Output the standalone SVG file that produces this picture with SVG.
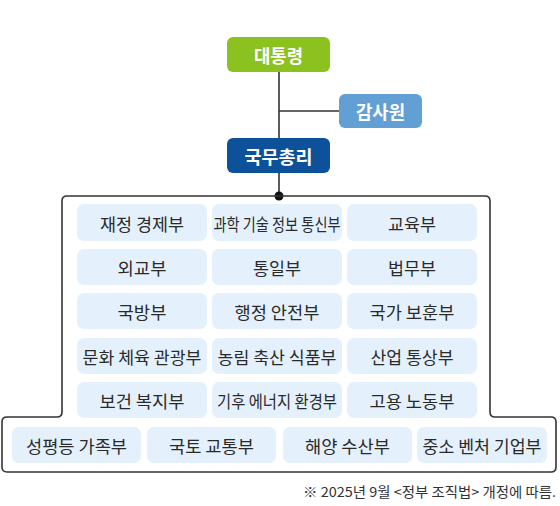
<svg xmlns="http://www.w3.org/2000/svg" width="560" height="506" viewBox="0 0 560 506">
<style>
  .top { font-family: "Noto Sans CJK KR", "Noto Sans", sans-serif; font-size: 18px; font-weight: 700; fill: #ffffff; text-anchor: middle; dominant-baseline: central; }
  .min rect { fill: #e4f1fc; }
  .min text { font-family: "Noto Sans CJK KR", "Noto Sans", sans-serif; font-size: 17px; fill: #2a2a2a; text-anchor: middle; dominant-baseline: central; }
  .line { stroke: #333333; stroke-width: 1.6; fill: none; }
  .note { font-family: "Noto Sans CJK KR", "Noto Sans", sans-serif; font-size: 13.5px; fill: #333333; }
</style>
<rect width="560" height="506" fill="#ffffff"/>
<g id="connectors">
  <path class="line" d="M279,72 V196 M279,111 H339"/>
  <circle cx="279" cy="196" r="4.5" fill="#111111"/>
</g>
<path id="frame" class="line" d="M67,196 H485 Q490,196 490,201 V412 Q490,417 495,417 H551 Q556,417 556,422 V467 Q556,472 551,472 H7 Q2,472 2,467 V422 Q2,417 7,417 H57 Q62,417 62,412 V201 Q62,196 67,196 Z"/>
<g id="president"><rect x="227" y="37" width="103" height="35" rx="6" fill="#8cc21f"/><text class="top" x="278.5" y="54.5" textLength="49" lengthAdjust="spacingAndGlyphs">대통령</text></g>
<g id="audit"><rect x="339" y="94" width="83" height="34" rx="6" fill="#619fd4"/><text class="top" x="380.5" y="111" textLength="49" lengthAdjust="spacingAndGlyphs">감사원</text></g>
<g id="pm"><rect x="227" y="138" width="103" height="35" rx="6" fill="#0d519b"/><text class="top" x="278.5" y="155.5" textLength="68" lengthAdjust="spacingAndGlyphs">국무총리</text></g>
<g class="min">
  <g id="n1"><rect x="77" y="204" width="130" height="37" rx="7"/><text x="142" y="223" textLength="84" lengthAdjust="spacingAndGlyphs">재정 경제부</text></g>
  <g id="n2"><rect x="212" y="204" width="130" height="37" rx="7"/><text x="277" y="223" textLength="127" lengthAdjust="spacingAndGlyphs">과학 기술 정보 통신부</text></g>
  <g id="n3"><rect x="347" y="204" width="130" height="37" rx="7"/><text x="412" y="223" textLength="48" lengthAdjust="spacingAndGlyphs">교육부</text></g>
  <g id="n4"><rect x="77" y="249" width="130" height="36" rx="7"/><text x="142" y="267.5" textLength="49" lengthAdjust="spacingAndGlyphs">외교부</text></g>
  <g id="n5"><rect x="212" y="249" width="130" height="36" rx="7"/><text x="277" y="267.5" textLength="48" lengthAdjust="spacingAndGlyphs">통일부</text></g>
  <g id="n6"><rect x="347" y="249" width="130" height="36" rx="7"/><text x="412" y="267.5" textLength="48" lengthAdjust="spacingAndGlyphs">법무부</text></g>
  <g id="n7"><rect x="77" y="293" width="130" height="36" rx="7"/><text x="142" y="311.5" textLength="49" lengthAdjust="spacingAndGlyphs">국방부</text></g>
  <g id="n8"><rect x="212" y="293" width="130" height="36" rx="7"/><text x="277" y="311.5" textLength="85" lengthAdjust="spacingAndGlyphs">행정 안전부</text></g>
  <g id="n9"><rect x="347" y="293" width="130" height="36" rx="7"/><text x="412" y="311.5" textLength="85" lengthAdjust="spacingAndGlyphs">국가 보훈부</text></g>
  <g id="n10"><rect x="77" y="338" width="130" height="36" rx="7"/><text x="142" y="356.5" textLength="119" lengthAdjust="spacingAndGlyphs">문화 체육 관광부</text></g>
  <g id="n11"><rect x="212" y="338" width="130" height="36" rx="7"/><text x="277" y="356.5" textLength="119" lengthAdjust="spacingAndGlyphs">농림 축산 식품부</text></g>
  <g id="n12"><rect x="347" y="338" width="130" height="36" rx="7"/><text x="412" y="356.5" textLength="83" lengthAdjust="spacingAndGlyphs">산업 통상부</text></g>
  <g id="n13"><rect x="77" y="382" width="130" height="36" rx="7"/><text x="142" y="400.5" textLength="85" lengthAdjust="spacingAndGlyphs">보건 복지부</text></g>
  <g id="n14"><rect x="212" y="382" width="130" height="36" rx="7"/><text x="277" y="400.5" textLength="120" lengthAdjust="spacingAndGlyphs">기후 에너지 환경부</text></g>
  <g id="n15"><rect x="347" y="382" width="130" height="36" rx="7"/><text x="412" y="400.5" textLength="85" lengthAdjust="spacingAndGlyphs">고용 노동부</text></g>
  <g id="n16"><rect x="12" y="427" width="129" height="36" rx="7"/><text x="76.5" y="445.5" textLength="101" lengthAdjust="spacingAndGlyphs">성평등 가족부</text></g>
  <g id="n17"><rect x="147" y="427" width="129" height="36" rx="7"/><text x="211.5" y="445.5" textLength="85" lengthAdjust="spacingAndGlyphs">국토 교통부</text></g>
  <g id="n18"><rect x="283" y="427" width="129" height="36" rx="7"/><text x="347.5" y="445.5" textLength="85" lengthAdjust="spacingAndGlyphs">해양 수산부</text></g>
  <g id="n19"><rect x="417" y="427" width="130" height="36" rx="7"/><text x="482" y="445.5" textLength="119" lengthAdjust="spacingAndGlyphs">중소 벤처 기업부</text></g>
</g>
<text class="note" x="303" y="497" textLength="253" lengthAdjust="spacingAndGlyphs">※ 2025년 9월 &lt;정부 조직법&gt; 개정에 따름.</text>
</svg>
